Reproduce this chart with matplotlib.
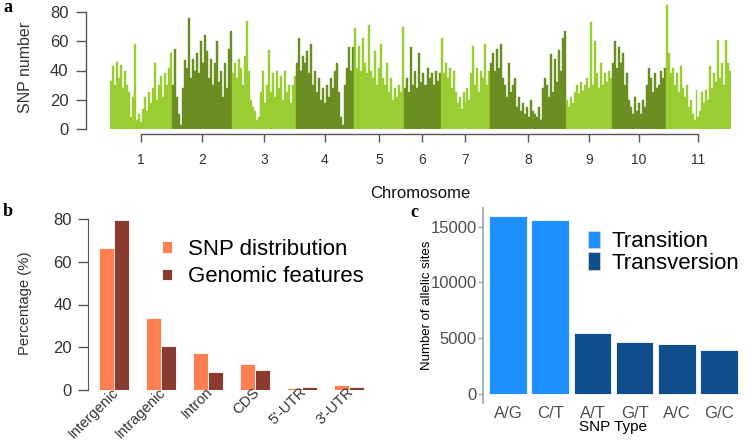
import numpy as np
import matplotlib.pyplot as plt
from matplotlib.patches import Patch

plt.rcParams["font.family"] = ["Liberation Sans", "DejaVu Sans"]

# === Panel a: SNP-Anzahl pro Fenster entlang der 11 Chromosomen ===
chrom_names = ["1", "2", "3", "4", "5", "6", "7", "8", "9", "10", "11"]
chrom_len = [52.7, 51.0, 54.4, 49.3, 42.5, 31.5, 41.7, 64.6, 39.1, 45.9, 55.3]  # Mb, aus Bild geschaetzt

snp_chr1 = [33, 43, 30, 46, 35, 44, 28, 40, 30, 25, 8, 22, 58, 6, 10, 5,
            14, 22, 12, 25, 18, 28, 45, 20, 30, 36, 22, 38, 30, 42, 52]
snp_chr2 = [30, 55, 22, 10, 3, 28, 47, 42, 76, 35, 48, 40, 52, 38, 60,
            45, 64, 53, 35, 48, 30, 45, 60, 32, 40, 22, 45, 28, 55, 67]
snp_chr3 = [38, 45, 35, 48, 42, 30, 50, 74, 40, 20, 15, 12, 6, 8, 25, 40,
            18, 30, 54, 25, 38, 22, 40, 28, 36, 20, 40, 25, 30, 18, 30, 36]
snp_chr4 = [45, 62, 40, 50, 45, 53, 38, 58, 30, 40, 25, 35, 20, 28, 18,
            30, 22, 35, 28, 40, 45, 25, 8, 3, 30, 42, 56, 40, 56]
snp_chr5 = [69, 42, 57, 40, 62, 45, 38, 71, 40, 35, 53, 30, 42, 58, 35,
            30, 45, 25, 35, 20, 28, 22, 30, 25, 70]
snp_chr6 = [28, 35, 25, 56, 30, 40, 28, 52, 32, 38, 30, 42, 35, 38, 30,
            40, 33, 38]
snp_chr7 = [62, 38, 45, 35, 42, 28, 40, 25, 18, 22, 14, 25, 18, 28, 20,
            38, 57, 30, 42, 25, 40, 35, 58, 30, 40]
snp_chr8 = [45, 52, 40, 55, 42, 58, 35, 30, 22, 45, 25, 30, 35, 15, 22,
            12, 18, 10, 15, 8, 20, 12, 10, 8, 15, 6, 28, 35, 30, 22, 51,
            25, 48, 32, 54, 40, 62, 67]
snp_chr9 = [20, 15, 22, 18, 25, 30, 24, 32, 26, 30, 35, 28, 73, 30, 60,
            38, 28, 45, 30, 38, 32, 40, 35]
snp_chr10 = [45, 60, 42, 56, 45, 52, 30, 38, 20, 15, 10, 22, 12, 18, 10,
             20, 15, 30, 42, 35, 25, 38, 28, 30, 40, 35, 42]
snp_chr11 = [85, 52, 38, 42, 30, 38, 25, 43, 28, 22, 30, 15, 20, 10, 6,
             27, 8, 12, 25, 18, 27, 20, 43, 28, 38, 32, 61, 35, 45, 30,
             61, 45, 40]
snp_counts = [snp_chr1, snp_chr2, snp_chr3, snp_chr4, snp_chr5, snp_chr6,
              snp_chr7, snp_chr8, snp_chr9, snp_chr10, snp_chr11]

# === Panel b: Verteilung der SNPs auf Genomregionen ===
region_labels = ["Intergenic", "Intragenic", "Intron", "CDS", "5'-UTR", "3'-UTR"]
snp_distribution = [66.3, 33.5, 17.5, 12.2, 1.1, 2.3]
genomic_features = [79.4, 20.6, 8.6, 9.4, 1.2, 1.2]

# === Panel c: SNP-Typen ===
snp_types = ["A/G", "C/T", "A/T", "G/T", "A/C", "G/C"]
allelic_sites = [15920, 15570, 5470, 4660, 4480, 3970]
snp_class = ["Transition", "Transition", "Transversion", "Transversion",
             "Transversion", "Transversion"]

W, H = 746, 443
fig = plt.figure(figsize=(W / 100, H / 100), dpi=100)


def px_axes(left, bottom, right, top):
    # Pixelkoordinaten (Ursprung oben links) -> Figure-Anteile
    return [left / W, 1 - bottom / H, (right - left) / W, (bottom - top) / H]


txt_dark = "#333333"
spine_col = "#555555"

# --- a ---
ax_a = fig.add_axes(px_axes(110, 129, 731, 129 - 87 * 117 / 80))
light_green = "#9ACD32"
dark_green = "#6B8E23"
start = 0.0
centers = []
for i, (vals, L) in enumerate(zip(snp_counts, chrom_len)):
    n = len(vals)
    bw = L / n
    x = start + bw * np.arange(n)
    col = light_green if i % 2 == 0 else dark_green
    ax_a.bar(x, vals, width=bw, align="edge", color=col, edgecolor=col, linewidth=0.3)
    centers.append(start + L / 2)
    start += L
ax_a.set_xlim(0, start)
ax_a.set_ylim(0, 87)
for s in ["top", "right"]:
    ax_a.spines[s].set_visible(False)
ax_a.spines["left"].set_position(("outward", 17.3))
ax_a.spines["left"].set_bounds(0, 80)
ax_a.spines["bottom"].set_position(("outward", 3.6))
ax_a.spines["bottom"].set_bounds(centers[0], centers[-1])
for s in ["left", "bottom"]:
    ax_a.spines[s].set_color(spine_col)
    ax_a.spines[s].set_linewidth(1.0)
ax_a.set_yticks([0, 20, 40, 60, 80])
ax_a.set_xticks(centers, chrom_names)
ax_a.tick_params(axis="y", length=7, width=1.0, color=spine_col, labelsize=12,
                 labelcolor=txt_dark, pad=5.5)
ax_a.tick_params(axis="x", length=6, width=1.0, color=spine_col, labelsize=10,
                 labelcolor=txt_dark, pad=7.5)
ax_a.set_ylabel("SNP number", fontsize=11.5, color=txt_dark, va="center")
ax_a.yaxis.set_label_coords((26 - 110) / 621, (129 - 67) / 127.2)
ax_a.set_xlabel("Chromosome", fontsize=12, color="#111111", va="center")
ax_a.xaxis.set_label_coords(0.5, (129 - 193) / 127.2)

# --- b ---
ax_b = fig.add_axes(px_axes(88, 390, 370, 390 - 82 * 171 / 80))
xb = np.arange(len(region_labels))
wb = 15 / 47.05
ax_b.bar(xb - wb / 2, snp_distribution, wb, color="#FF7F50", edgecolor="white",
         linewidth=0.6, label="SNP distribution")
ax_b.bar(xb + wb / 2, genomic_features, wb, color="#8B3A2F", edgecolor="white",
         linewidth=0.6, label="Genomic features")
ax_b.set_xlim((88 - 114) / 47.05, (370 - 114) / 47.05)
ax_b.set_ylim(0, 82)
for s in ["top", "right", "bottom"]:
    ax_b.spines[s].set_visible(False)
ax_b.spines["left"].set_bounds(0, 80)
ax_b.spines["left"].set_color(spine_col)
ax_b.set_yticks([0, 20, 40, 60, 80])
ax_b.tick_params(axis="y", length=7, width=1.0, color=spine_col, labelsize=12,
                 labelcolor=txt_dark, pad=4.5)
ax_b.set_xticks(xb + 0.04, region_labels, rotation=45, ha="right", va="center",
                rotation_mode="anchor")
ax_b.tick_params(axis="x", length=0, labelsize=10.5, labelcolor=txt_dark, pad=0)
ax_b.set_ylabel("Percentage (%)", fontsize=10.7, color=txt_dark, va="center")
ax_b.yaxis.set_label_coords((25 - 88) / 282, (390 - 303) / 175.3)
ax_b.legend(loc="upper left", bbox_to_anchor=(162 / W, 1 - 239 / H),
            bbox_transform=fig.transFigure, frameon=False, fontsize=16,
            handlelength=0.45, handleheight=0.45, handletextpad=0.72,
            labelspacing=0.29, borderpad=0, borderaxespad=0)

# --- c ---
ax_c = fig.add_axes(px_axes(483, 402.9, 744, 207.7))
class_colors = {"Transition": "#1E90FF", "Transversion": "#104E8B"}
xc = np.arange(1, len(snp_types) + 1)
ax_c.bar(xc, allelic_sites, 0.9, color=[class_colors[c] for c in snp_class],
         edgecolor="white", linewidth=0.6)
ax_c.set_xlim(0.4, 6.6)
ax_c.set_ylim(-795, 16695)
for s in ["top", "right", "bottom"]:
    ax_c.spines[s].set_visible(False)
ax_c.spines["left"].set_color("#A0A0A0")
ax_c.spines["left"].set_linewidth(1.2)
ax_c.set_yticks([0, 5000, 10000, 15000])
ax_c.tick_params(axis="y", length=3.4, width=1.0, color="#A0A0A0", labelsize=12,
                 labelcolor="#4D4D4D", pad=1)
ax_c.set_xticks(xc, snp_types)
ax_c.tick_params(axis="x", length=0, labelsize=12, labelcolor="#4D4D4D", pad=2)
ax_c.set_ylabel("Number of allelic sites", fontsize=9.5, color="black", va="center")
ax_c.yaxis.set_label_coords((426.7 - 483) / 261, (402.9 - 305) / 195.2)
ax_c.set_xlabel("SNP Type", fontsize=11, color="black", va="center")
ax_c.xaxis.set_label_coords((613.3 - 483) / 261, (402.9 - 426.7) / 195.2)
handles = [Patch(facecolor=class_colors[k], edgecolor="#DDDDDD", linewidth=0.5)
           for k in class_colors]
ax_c.legend(handles, list(class_colors), loc="upper left",
            bbox_to_anchor=(588 / W, 1 - 231 / H), bbox_transform=fig.transFigure,
            frameon=False, fontsize=16, handlelength=0.54, handleheight=0.82,
            handletextpad=0.5, labelspacing=0.0, borderpad=0, borderaxespad=0)

# Panelbuchstaben
for lab, (px, py) in {"a": (7.5, 8), "b": (8, 211), "c": (414, 213)}.items():
    fig.text(px / W, 1 - py / H, lab, ha="center", va="center",
             family="Liberation Serif", fontweight="bold", fontsize=13)

fig.savefig("out.png", dpi=100)
